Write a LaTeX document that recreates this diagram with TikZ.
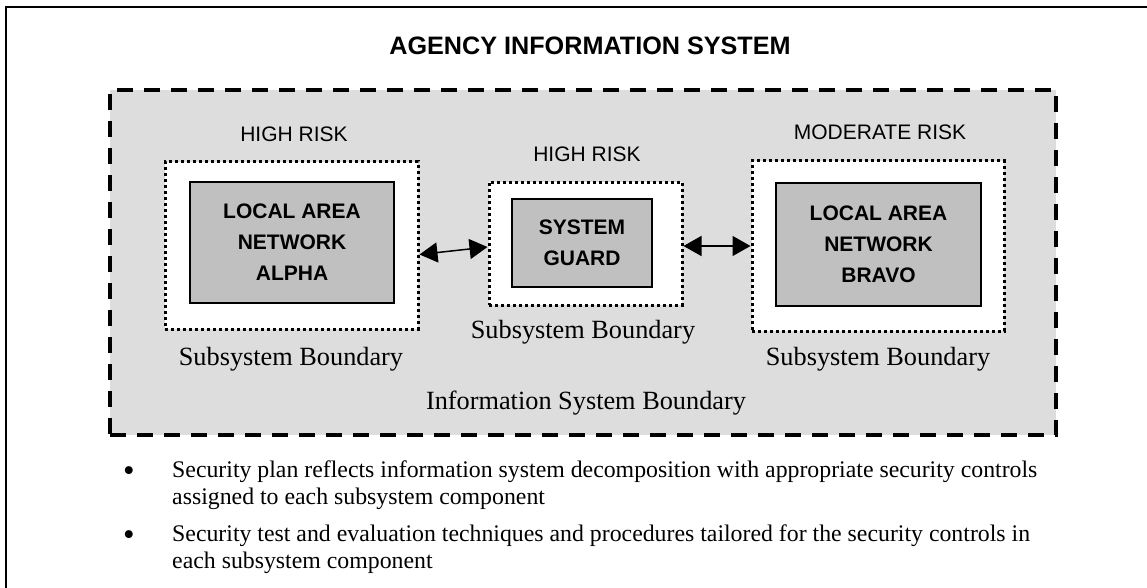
\documentclass[tikz,border=0pt]{standalone}
\usepackage{fontspec}
\setmainfont{Liberation Serif}
\newfontfamily\arialfont{Liberation Sans}
\usetikzlibrary{arrows.meta}
\definecolor{sysgray}{HTML}{DDDDDD}
\definecolor{boxgray}{HTML}{C0C0C0}

\begin{document}
\begin{tikzpicture}[x=1pt,y=-1pt,
  isboundary/.style={draw=black, line width=4pt, dash pattern=on 16pt off 11pt, fill=sysgray, inner sep=0pt},
  subboundary/.style={draw=black, line width=3pt, dash pattern=on 3pt off 3pt, fill=white, inner sep=0pt},
  component/.style={draw=black, line width=1.2pt, fill=boxgray, inner sep=0pt,
    font=\arialfont\bfseries\fontsize{21}{31}\selectfont, align=center},
  titlelabel/.style={font=\arialfont\bfseries\fontsize{25.2}{30}\selectfont, inner sep=0pt},
  risklabel/.style={font=\arialfont\fontsize{21}{25}\selectfont, inner sep=0pt},
  boundlabel/.style={font=\fontsize{26.3}{30}\selectfont, inner sep=0pt},
  bulletmark/.style={font=\fontsize{33}{33}\selectfont, inner sep=0pt},
  bullettext/.style={font=\fontsize{23.8}{27.5}\selectfont, inner sep=0pt, align=left},
  link/.style={line width=1.5pt, {Triangle[length=18pt,width=20pt]}-{Triangle[length=18pt,width=20pt]}}
]
\clip (0,0) rectangle (1147,588);

% outer frame, running off the right and bottom edges
\draw[line width=1.8pt] (6,7) rectangle (1170,610);

\node[titlelabel, anchor=base] (title) at (590,55) {AGENCY INFORMATION SYSTEM};

% information system boundary
\node[isboundary, minimum width=946pt, minimum height=345pt] (isb) at (583,262.5) {};

% subsystems
\node[subboundary, minimum width=253pt, minimum height=167pt] (alphaSub) at (291.5,245.5) {};
\node[component, minimum width=204pt, minimum height=121pt] (alpha) at (292,242.5)
  {LOCAL AREA\\NETWORK\\ALPHA};

\node[subboundary, minimum width=193pt, minimum height=123pt] (guardSub) at (585.5,243.5) {};
\node[component, minimum width=140pt, minimum height=88pt] (guard) at (582,243)
  {SYSTEM\\GUARD};

\node[subboundary, minimum width=252pt, minimum height=170pt] (bravoSub) at (878,246) {};
\node[component, minimum width=205pt, minimum height=123pt] (bravo) at (878.5,244.5)
  {LOCAL AREA\\NETWORK\\BRAVO};

% risk levels
\node[risklabel] (alphaRisk) at (294,134) {HIGH RISK};
\node[risklabel] (guardRisk) at (587,154) {HIGH RISK};
\node[risklabel] (bravoRisk) at (880,132) {MODERATE RISK};

% boundary labels
\node[boundlabel, anchor=base] (alphaLbl) at (291,365) {Subsystem Boundary};
\node[boundlabel, anchor=base] (guardLbl) at (583,338) {Subsystem Boundary};
\node[boundlabel, anchor=base] (bravoLbl) at (878,365) {Subsystem Boundary};
\node[boundlabel, anchor=base] (isbLbl) at (586,409) {Information System Boundary};

% interconnections
\draw[link] ([yshift=-9pt]alphaSub.east) -- ([yshift=-3.5pt]guardSub.west);
\draw[link] ([yshift=-2.5pt]guardSub.east) -- ([yshift=-2.5pt]guardSub.east -| bravoSub.west);

% notes (a multi-line node sits on the baseline of its last line)
\node[bulletmark, anchor=base] (b1) at (129,481) {•};
\node[bullettext, anchor=base west] (t1) at (172,504.5)
  {Security plan reflects information system decomposition with appropriate security controls\\
   assigned to each subsystem component};
\node[bulletmark, anchor=base] (b2) at (129,545) {•};
\node[bullettext, anchor=base west] (t2) at (172,568.5)
  {Security test and evaluation techniques and procedures tailored for the security controls in\\
   each subsystem component};
\end{tikzpicture}
\end{document}
